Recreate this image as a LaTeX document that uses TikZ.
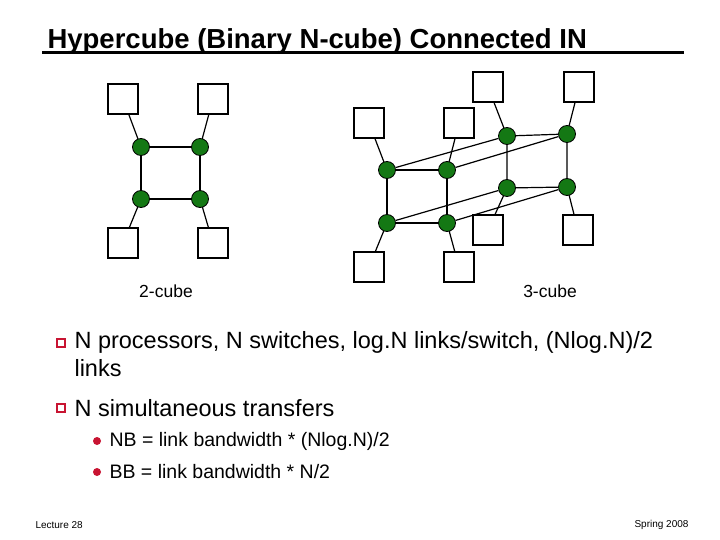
\documentclass[tikz,border=0pt]{standalone}
\usepackage{fontspec}
\setmainfont{Liberation Sans}
\definecolor{swgreen}{RGB}{20,120,20}
\definecolor{bulred}{RGB}{200,20,50}
\begin{document}
\begin{tikzpicture}[x=1pt,y=-1pt,
    proc/.style={draw,line width=1.2pt,fill=white,minimum size=30pt,inner sep=0pt},
    sw/.style={circle,draw,line width=0.8pt,fill=swgreen,minimum size=17pt,inner sep=0pt},
    link/.style={line width=1.2pt}]
  \useasboundingbox (0,0) rectangle (720,540);
  % title
  \node[anchor=west,font=\fontsize{27.5}{30}\selectfont\bfseries] (title) at (44,41) {Hypercube (Binary N-cube) Connected IN};
  \draw[line width=3pt] (42,53) -- (684,53);
  % 2-cube
  \node[proc] (pa) at (123,99) {};
  \node[proc] (pb) at (213,99) {};
  \node[proc] (pc) at (123,243) {};
  \node[proc] (pd) at (213,243) {};
  \draw[link] (pa) -- (141,147) (pb) -- (200,147) (pc) -- (141,199) (pd) -- (200,199);
  \node[sw] (sa) at (141,147) {};
  \node[sw] (sb) at (200,147) {};
  \node[sw] (sc) at (141,199) {};
  \node[sw] (sd) at (200,199) {};
  \draw[link] (sa) -- (sb) -- (sd) -- (sc) -- (sa);
  \node[font=\fontsize{17.5}{18}\selectfont] (lab2) at (166,291) {2-cube};
  % 3-cube, back face
  \node[proc] (qa) at (488,87) {};
  \node[proc] (qb) at (579,87) {};
  \node[proc] (qc) at (488,230) {};
  \node[proc] (qd) at (578,230) {};
  \draw[link] (qa) -- (507,136) (qb) -- (567,134) (qc) -- (507,188) (qd) -- (567,187);
  \node[sw] (ta) at (507,136) {};
  \node[sw] (tb) at (567,134) {};
  \node[sw] (tc) at (507,188) {};
  \node[sw] (td) at (567,187) {};
  \draw[link] (ta) -- (tb) -- (td) -- (tc) -- (ta);
  % 3-cube, front face
  \node[proc] (ra) at (369,123) {};
  \node[proc] (rb) at (459,123) {};
  \node[proc] (rc) at (369,267) {};
  \node[proc] (rd) at (459,267) {};
  \draw[link] (ra) -- (387,170) (rb) -- (447,170) (rc) -- (387,223) (rd) -- (447,223);
  \node[sw] (ua) at (387,170) {};
  \node[sw] (ub) at (447,170) {};
  \node[sw] (uc) at (387,223) {};
  \node[sw] (ud) at (447,223) {};
  \draw[link] (ua) -- (ub) -- (ud) -- (uc) -- (ua);
  \draw[link] (ua) -- (ta) (ub) -- (tb) (uc) -- (tc) (ud) -- (td);
  \node[font=\fontsize{17.5}{18}\selectfont] (lab3) at (550,291) {3-cube};
  % bullets
  \node[draw=bulred,fill=white,line width=1.4pt,minimum size=8pt,inner sep=0pt] (b1) at (61,343) {};
  \node[anchor=north west,align=left,font=\fontsize{23.5}{28}\selectfont] (t1) at (71,328)
    {N processors, N switches, log.N links/switch, (Nlog.N)/2\\links};
  \node[draw=bulred,fill=white,line width=1.4pt,minimum size=8pt,inner sep=0pt] (b2) at (61,408) {};
  \node[anchor=west,font=\fontsize{23.5}{26}\selectfont] (t2) at (71,408) {N simultaneous transfers};
  \node[circle,fill=bulred,minimum size=8pt,inner sep=0pt] (d1) at (97,441) {};
  \node[anchor=west,font=\fontsize{19.5}{22}\selectfont] (t3) at (106,441) {NB = link bandwidth * (Nlog.N)/2};
  \node[circle,fill=bulred,minimum size=8pt,inner sep=0pt] (d2) at (97,472) {};
  \node[anchor=west,font=\fontsize{19.5}{22}\selectfont] (t4) at (106,472) {BB = link bandwidth * N/2};
  % footer
  \node[anchor=west,font=\fontsize{10}{11}\selectfont] (f1) at (32,525) {Lecture 28};
  \node[anchor=east,font=\fontsize{10}{11}\selectfont] (f2) at (692,525) {Spring 2008};
\end{tikzpicture}
\end{document}
